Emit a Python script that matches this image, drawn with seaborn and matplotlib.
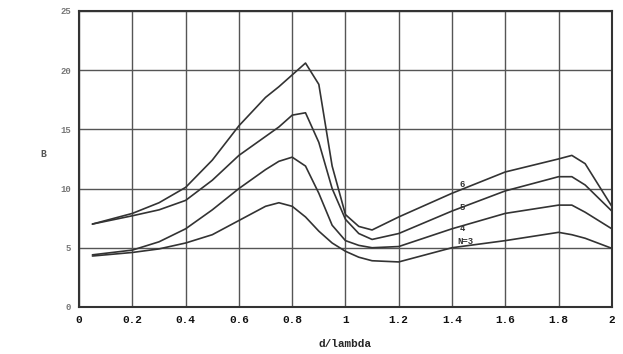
import matplotlib
matplotlib.use("Agg")
import matplotlib.pyplot as plt
import seaborn as sns
import pandas as pd

x = [0.05, 0.2, 0.3, 0.4, 0.5, 0.6, 0.7, 0.75, 0.8, 0.85, 0.9, 0.95, 1.0, 1.05, 1.1,
     1.2, 1.4, 1.6, 1.8, 1.85, 1.9, 2.0]
n6 = [7.0, 7.9, 8.8, 10.1, 12.4, 15.3, 17.7, 18.6, 19.6, 20.6, 18.8, 11.9, 7.8, 6.8, 6.5,
      7.6, 9.6, 11.4, 12.5, 12.8, 12.1, 8.5]
n5 = [7.0, 7.7, 8.2, 9.0, 10.7, 12.8, 14.4, 15.2, 16.2, 16.4, 13.9, 10.0, 7.4, 6.2, 5.7,
      6.2, 8.1, 9.8, 11.0, 11.0, 10.3, 8.1]
n4 = [4.4, 4.8, 5.5, 6.6, 8.2, 10.0, 11.6, 12.3, 12.65, 11.9, 9.6, 6.9, 5.6, 5.2, 5.0,
      5.1, 6.6, 7.9, 8.6, 8.6, 8.0, 6.6]
n3 = [4.3, 4.6, 4.9, 5.4, 6.1, 7.3, 8.5, 8.8, 8.5, 7.6, 6.4, 5.4, 4.7, 4.2, 3.9,
      3.8, 5.0, 5.6, 6.3, 6.1, 5.8, 4.95]
series = {"6": n6, "5": n5, "4": n4, "N=3": n3}
label_pos = {"6": (1.43, 10.3), "5": (1.43, 8.4), "4": (1.43, 6.6), "N=3": (1.42, 5.5)}

xticks = [0, 0.2, 0.4, 0.6, 0.8, 1, 1.2, 1.4, 1.6, 1.8, 2]
xticklabels = ["0", "0.2", "0.4", "0.6", "0.8", "1", "1.2", "1.4", "1.6", "1.8", "2"]
yticks = [0, 5, 10, 15, 20, 25]

rows = []
for name, vals in series.items():
    for xi, yi in zip(x, vals):
        rows.append({"d": xi, "B": yi, "N": name})
df = pd.DataFrame(rows)

sns.set_style("white")
fig = plt.figure(figsize=(6.23, 3.54), dpi=100)
ax = fig.add_axes([0.127, 0.133, 0.855, 0.836])

sns.lineplot(data=df, x="d", y="B", hue="N", palette=["#333333"] * 4,
             legend=False, ax=ax, linewidth=1.2, sort=False,
             solid_joinstyle="round")

ax.set_xlim(0, 2)
ax.set_ylim(0, 25)
ax.set_xticks(xticks)
ax.set_xticklabels(xticklabels, fontfamily="Liberation Mono", fontweight="bold",
                   fontsize=8, color="#111111")
ax.set_yticks(yticks)
ax.set_yticklabels([str(v) for v in yticks], fontfamily="Liberation Mono",
                   fontweight="bold", fontsize=6.5, color="#777777")
ax.tick_params(axis="x", length=0, pad=6)
ax.tick_params(axis="y", length=4, width=1, color="#999999", pad=2, direction="out")
ax.grid(True, color="#555555", linewidth=1.0)
for s in ax.spines.values():
    s.set_color("#333333")
    s.set_linewidth(1.5)

for name, (tx, ty) in label_pos.items():
    ax.text(tx, ty, name, fontsize=6.5, fontfamily="Liberation Mono",
            fontweight="bold", color="#333333", ha="left", va="center")

ax.set_xlabel("d/lambda", fontfamily="Liberation Mono", fontweight="bold",
              fontsize=8, labelpad=10)
ax.set_ylabel("B", fontfamily="Liberation Mono", fontweight="bold", fontsize=7,
              rotation=0, labelpad=12, color="#555555")

fig.savefig("out.png", dpi=100)
